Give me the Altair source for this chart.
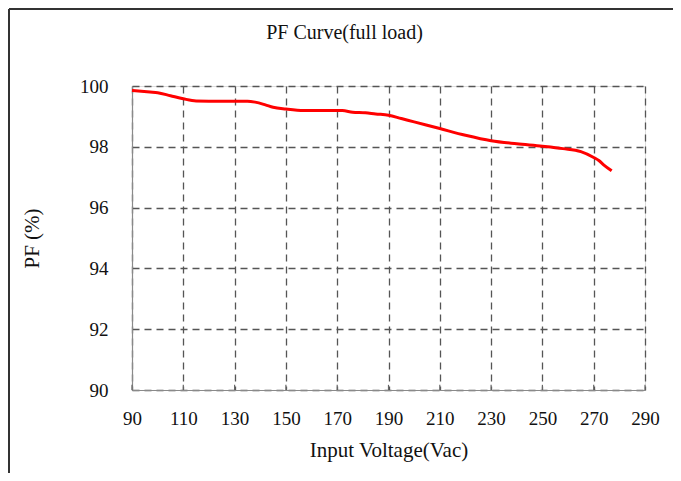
import altair as alt
import pandas as pd

voltage = [90, 97, 100, 105, 110, 115, 125, 135, 138, 142, 145, 150, 157, 165, 172,
           176, 181, 185, 190, 195, 200, 210, 220, 230, 240, 250, 258, 265, 270, 272, 274, 277]
pf = [99.85, 99.8, 99.78, 99.68, 99.58, 99.51, 99.5, 99.5, 99.47, 99.38, 99.3, 99.24,
      99.19, 99.19, 99.19, 99.14, 99.12, 99.08, 99.04, 98.93, 98.82, 98.6, 98.38, 98.2,
      98.1, 98.02, 97.94, 97.84, 97.65, 97.55, 97.4, 97.21]
x_ticks = [90, 110, 130, 150, 170, 190, 210, 230, 250, 270, 290]
y_ticks = [90, 92, 94, 96, 98, 100]
chart_title = ["PF Curve(full load)"]

FONT = "Liberation Serif"
W, H = 513, 304

df = pd.DataFrame({"V": voltage, "PF": pf})
ticks_df = pd.DataFrame({"V": x_ticks, "y0": [90] * len(x_ticks), "y1": [90.17] * len(x_ticks)})
one = pd.DataFrame({"t": chart_title})

xs = alt.Scale(domain=[90, 290], nice=False, zero=False)
ys = alt.Scale(domain=[90, 100], nice=False, zero=False)

x_axis = alt.Axis(values=x_ticks, title="Input Voltage(Vac)", grid=True, ticks=False,
                  labelFlush=False, labelPadding=19, labelFontSize=19, labelFont=FONT,
                  labelColor="#111",
                  titleFont=FONT, titleFontSize=21, titleFontWeight="normal", titleColor="#111",
                  titleX=W / 2, titleY=60, titleBaseline="middle",
                  domainColor="#8a8a8a", domainWidth=1.2,
                  gridColor="#555", gridDash=[7, 5], gridWidth=1.3)
y_axis = alt.Axis(values=y_ticks, title="PF (%)", grid=True, ticks=False,
                  labelPadding=24, labelFontSize=19, labelFont=FONT, labelColor="#111",
                  titleFont=FONT, titleFontSize=21, titleFontWeight="normal", titleColor="#111",
                  titleX=-100, titleY=H / 2, titleBaseline="middle", titleAngle=-90,
                  domainColor="#8a8a8a", domainWidth=1.2,
                  gridColor="#555", gridDash=[7, 5], gridWidth=1.3)

line = alt.Chart(df).mark_line(color="#ff0000", strokeWidth=3, interpolate="monotone").encode(
    x=alt.X("V:Q", scale=xs, axis=x_axis),
    y=alt.Y("PF:Q", scale=ys, axis=y_axis),
)

tick_rules = alt.Chart(ticks_df).mark_rule(color="#666", strokeWidth=1.2).encode(
    x=alt.X("V:Q", scale=xs),
    y=alt.Y("y0:Q", scale=ys),
    y2="y1:Q",
)

title_text = alt.Chart(one).mark_text(font=FONT, fontSize=20, color="#111",
                                      align="center", baseline="middle").encode(
    x=alt.value(W / 2 - 44), y=alt.value(-53), text="t:N")

frame_top = alt.Chart(one).mark_rule(color="#333", strokeWidth=2).encode(
    x=alt.value(-123), x2=alt.value(560), y=alt.value(-77))
frame_left = alt.Chart(one).mark_rule(color="#333", strokeWidth=2).encode(
    x=alt.value(-123), y=alt.value(-77), y2=alt.value(420))

chart = alt.layer(tick_rules, line, title_text, frame_top, frame_left).properties(
    width=W, height=H,
    autosize=alt.AutoSizeParams(type="none"),
    padding={"left": 124, "top": 78, "right": 28, "bottom": 83},
).configure_view(stroke=None).configure(background="white")

chart.save("out.html", embed_options={"renderer": "svg", "actions": False})
